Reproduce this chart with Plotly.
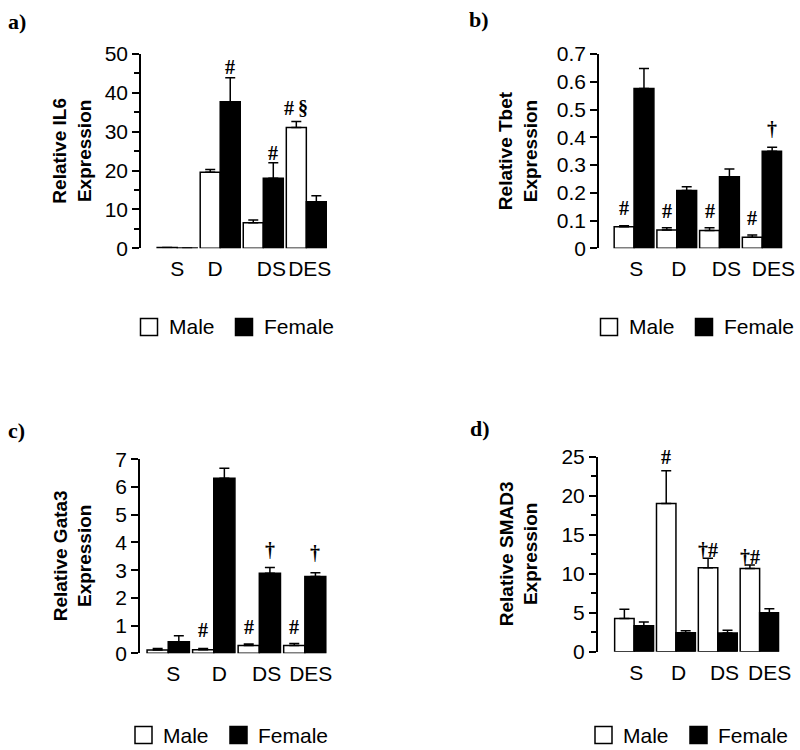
import plotly.graph_objects as go

W, H = 800, 750
groups = ["S", "D", "DS", "DES"]
sexes = ["Male", "Female"]

# ---- data ----
il6_male = [0.2, 19.6, 6.6, 31.1]
il6_male_err = [0.0, 0.7, 0.7, 1.5]
il6_female = [0.1, 37.7, 18.0, 12.0]
il6_female_err = [0.0, 6.2, 4.0, 1.5]

tbet_male = [0.078, 0.066, 0.064, 0.040]
tbet_male_err = [0.003, 0.008, 0.010, 0.008]
tbet_female = [0.576, 0.208, 0.258, 0.350]
tbet_female_err = [0.072, 0.014, 0.028, 0.014]

gata3_male = [0.12, 0.13, 0.28, 0.28]
gata3_male_err = [0.05, 0.04, 0.06, 0.07]
gata3_female = [0.42, 6.32, 2.89, 2.77]
gata3_female_err = [0.21, 0.36, 0.21, 0.14]

smad3_male = [4.27, 19.0, 10.77, 10.68]
smad3_male_err = [1.16, 4.2, 1.2, 0.43]
smad3_female = [3.33, 2.44, 2.39, 5.0]
smad3_female_err = [0.47, 0.25, 0.35, 0.51]

# significance marks: (group index, sex, text, y position)
marks_a = [(1, "F", "#", 46.6), (2, "F", "#", 24.6), (3, "M", "#\u2009§", 36.0)]
marks_b = [(0, "M", "#", 0.144), (1, "M", "#", 0.134), (2, "M", "#", 0.134),
           (3, "M", "#", 0.108), (3, "F", "†", 0.429)]
marks_c = [(1, "M", "#", 0.84), (2, "M", "#", 0.96), (3, "M", "#", 0.96),
           (2, "F", "†", 3.73), (3, "F", "†", 3.61)]
marks_d = [(1, "M", "#", 25.0), (2, "M", "†#", 13.0), (3, "M", "†#", 12.2)]

# category label positions (in group units)
labelpos_a = [0.0, 0.88, 2.19, 3.08]
labelpos_b = [0.05, 1.05, 2.16, 3.26]
labelpos_c = [0.11, 1.12, 2.16, 3.13]
labelpos_d = [0.05, 1.06, 2.16, 3.24]

# ---- layout helpers ----
def px(x):
    return x / W

def py(y):
    return 1 - y / H

BARGAP = 0.07
HALF = (1 - BARGAP) / 4
FILLS = {"Male": "white", "Female": "black"}

panels = [
    dict(key="", male=il6_male, me=il6_male_err, female=il6_female, fe=il6_female_err,
         xdom=(141, 327), ydom=(54, 248.3), xr=(-0.84, 3.48), yr=(0, 50), dtick=10, minor=5,
         title="Relative IL6<br>Expression", tx=72.5, label="a)", lx=17, ly=21,
         marks=marks_a, lpos=labelpos_a, legx=(149, 244), legy=327),
    dict(key="2", male=tbet_male, me=tbet_male_err, female=tbet_female, fe=tbet_female_err,
         xdom=(599, 782.3), ydom=(54, 248.3), xr=(-0.82, 3.47), yr=(0, 0.7), dtick=0.1, minor=None,
         title="Relative Tbet<br>Expression", tx=518, label="b)", lx=479, ly=20,
         marks=marks_b, lpos=labelpos_b, legx=(609, 704), legy=327),
    dict(key="3", male=gata3_male, me=gata3_male_err, female=gata3_female, fe=gata3_female_err,
         xdom=(140, 326.7), ydom=(459.3, 653.3), xr=(-0.62, 3.48), yr=(0, 7), dtick=1, minor=None,
         title="Relative Gata3<br>Expression", tx=73, label="c)", lx=16.5, ly=430,
         marks=marks_c, lpos=labelpos_c, legx=(143.5, 238.5), legy=735),
    dict(key="4", male=smad3_male, me=smad3_male_err, female=smad3_female, fe=smad3_female_err,
         xdom=(597.7, 779.3), ydom=(456.7, 651.7), xr=(-0.87, 3.47), yr=(0, 25), dtick=5, minor=2.5,
         title="Relative SMAD3<br>Expression", tx=519, label="d)", lx=479.5, ly=428,
         marks=marks_d, lpos=labelpos_d, legx=(603.5, 698.5), legy=735),
]

fig = go.Figure()
annotations = []
shapes = []
layout = {}
xs = list(range(len(groups)))
BOX = 17

for p in panels:
    k = p["key"]
    xa, ya = "x" + k, "y" + k
    for name, vals, errs in [("Male", p["male"], p["me"]), ("Female", p["female"], p["fe"])]:
        fig.add_trace(go.Bar(
            x=xs, y=vals, name=name, xaxis=xa, yaxis=ya,
            offsetgroup=name, showlegend=False,
            marker=dict(color=FILLS[name], line=dict(color="black", width=1.5)),
            error_y=dict(type="data", array=errs, arrayminus=[0] * len(errs),
                         symmetric=False, color="black", thickness=1.5, width=5),
        ))
    ymid = (p["ydom"][0] + p["ydom"][1]) / 2
    layout["xaxis" + k] = dict(
        domain=[px(p["xdom"][0]), px(p["xdom"][1])], range=list(p["xr"]),
        anchor=ya, showline=False, showgrid=False, zeroline=False, ticks="",
        tickvals=p["lpos"], ticktext=groups, tickangle=0, automargin=False,
        tickfont=dict(size=21, color="black"), ticklabelstandoff=6,
    )
    yax = dict(
        domain=[py(p["ydom"][1]), py(p["ydom"][0])], range=list(p["yr"]),
        anchor=xa, showline=True, linecolor="black", linewidth=1.5, automargin=False,
        showgrid=False, zeroline=False, ticks="outside", ticklen=7, tickwidth=1.5,
        tickcolor="black", dtick=p["dtick"], tick0=0,
        tickfont=dict(size=21, color="black"),
    )
    if p["minor"]:
        yax["minor"] = dict(dtick=p["minor"], ticks="outside", ticklen=5,
                            tickwidth=1.5, tickcolor="black", showgrid=False)
    layout["yaxis" + k] = yax
    annotations.append(dict(
        text="<b>" + p["title"] + "</b>", x=px(p["tx"]), y=py(ymid), xref="paper", yref="paper",
        textangle=-90, showarrow=False, font=dict(size=19, family="Liberation Sans, Arial", color="black"),
        xanchor="center", yanchor="middle",
    ))
    annotations.append(dict(
        text="<b>" + p["label"] + "</b>", x=px(p["lx"]), y=py(p["ly"]), xref="paper", yref="paper",
        showarrow=False, font=dict(size=22, family="Liberation Serif, Times New Roman", color="black"),
        xanchor="center", yanchor="middle",
    ))
    for g, sex, txt, yv in p["marks"]:
        annotations.append(dict(
            text="<b>" + txt + "</b>", x=g + (-HALF if sex == "M" else HALF), y=yv,
            xref=xa, yref=ya, showarrow=False,
            font=dict(size=20, family="Liberation Serif, Times New Roman", color="black"),
            xanchor="center", yanchor="middle",
        ))
    # legend (drawn as key boxes + labels)
    for name, cx in zip(sexes, p["legx"]):
        shapes.append(dict(
            type="rect", xref="paper", yref="paper",
            x0=px(cx - BOX / 2), x1=px(cx + BOX / 2),
            y0=py(p["legy"] + BOX / 2), y1=py(p["legy"] - BOX / 2),
            fillcolor=FILLS[name], line=dict(color="black", width=1.5),
        ))
        annotations.append(dict(
            text=name, x=px(cx + BOX / 2 + 9), y=py(p["legy"]), xref="paper", yref="paper",
            showarrow=False, xanchor="left", yanchor="middle",
            font=dict(size=21, family="Liberation Sans, Arial", color="black"),
        ))

fig.update_layout(
    template="none",
    width=W, height=H, margin=dict(l=0, r=0, t=0, b=0, autoexpand=False),
    paper_bgcolor="white", plot_bgcolor="white", showlegend=False,
    font=dict(family="Liberation Sans, Arial", color="black"),
    barmode="group", bargap=BARGAP, bargroupgap=0,
    annotations=annotations, shapes=shapes, **layout,
)

fig.write_html("out.html", config={"displayModeBar": False},
               post_script="document.body.style.margin='0';")
